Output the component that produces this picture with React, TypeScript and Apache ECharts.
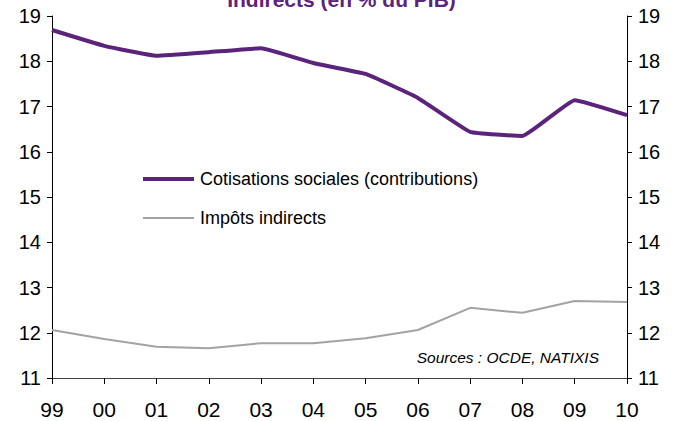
import React, { useEffect, useRef } from "react";
import * as echarts from "echarts";

const years = ["99", "00", "01", "02", "03", "04", "05", "06", "07", "08", "09", "10"];
const cotisations = [18.69, 18.34, 18.12, 18.2, 18.29, 17.96, 17.72, 17.19, 16.44, 16.35, 17.14, 16.81];
const impots = [12.06, 11.86, 11.69, 11.66, 11.77, 11.77, 11.88, 12.06, 12.55, 12.44, 12.7, 12.68];
const seriesNames = ["Cotisations sociales (contributions)", "Impôts indirects"];
const titleText = "Indirects (en % du PIB)";
const sourceText = "Sources : OCDE, NATIXIS";

const FONT = "Liberation Sans, Arial, sans-serif";
const PURPLE = "#5b237c";
const GRAY = "#a3a3a3";

export default function App() {
  const ref = useRef<HTMLDivElement>(null);
  useEffect(() => {
    if (!ref.current) return;
    const chart = echarts.init(ref.current, undefined, { renderer: "svg" });
    const yAxisCommon = {
      type: "value",
      min: 11,
      max: 19,
      interval: 1,
      splitLine: { show: false },
      axisLine: { show: true, lineStyle: { color: "#000", width: 1 } },
      axisTick: { show: true, length: 5, lineStyle: { color: "#000" } },
      axisLabel: { color: "#000", fontSize: 20, fontFamily: FONT, margin: 11 },
    };
    const legendCommon = {
      orient: "vertical",
      left: 143,
      padding: 0,
      itemWidth: 51,
      itemGap: 0,
      icon: "rect",
      textStyle: { color: "#000", fontSize: 18, fontFamily: FONT, padding: [0, 0, 0, 1] },
    };
    chart.setOption({
      animation: false,
      textStyle: { fontFamily: FONT },
      grid: { left: 52, right: 56, top: 16, bottom: 43, containLabel: false },
      xAxis: {
        type: "category",
        data: years,
        boundaryGap: false,
        axisLine: { show: true, lineStyle: { color: "#444", width: 1 } },
        axisTick: { show: true, length: 6, alignWithLabel: true, lineStyle: { color: "#000" } },
        axisLabel: { color: "#000", fontSize: 21, fontFamily: FONT, margin: 21 },
      },
      yAxis: [
        { ...yAxisCommon, position: "left" },
        { ...yAxisCommon, position: "right" },
      ],
      legend: [
        { ...legendCommon, top: 170, itemHeight: 4, data: [seriesNames[0]] },
        { ...legendCommon, top: 209, itemHeight: 2, data: [seriesNames[1]] },
      ],
      series: [
        {
          name: seriesNames[0],
          type: "line",
          data: cotisations,
          symbol: "none",
          smooth: 0.1,
          lineStyle: { color: PURPLE, width: 4 },
          itemStyle: { color: PURPLE },
        },
        {
          name: seriesNames[1],
          type: "line",
          data: impots,
          symbol: "none",
          lineStyle: { color: GRAY, width: 2 },
          itemStyle: { color: GRAY },
        },
      ],
      graphic: [
        {
          type: "text",
          left: "center",
          top: -11,
          style: {
            text: titleText,
            fill: PURPLE,
            font: `bold 21px ${FONT}`,
          },
        },
        {
          type: "text",
          right: 84,
          top: 349,
          style: {
            text: sourceText,
            fill: "#000",
            font: `italic 15.5px ${FONT}`,
          },
        },
      ],
    });
    return () => chart.dispose();
  }, []);
  return <div ref={ref} style={{ width: 683, height: 421, position: "absolute", left: 0, top: 0 }} />;
}
